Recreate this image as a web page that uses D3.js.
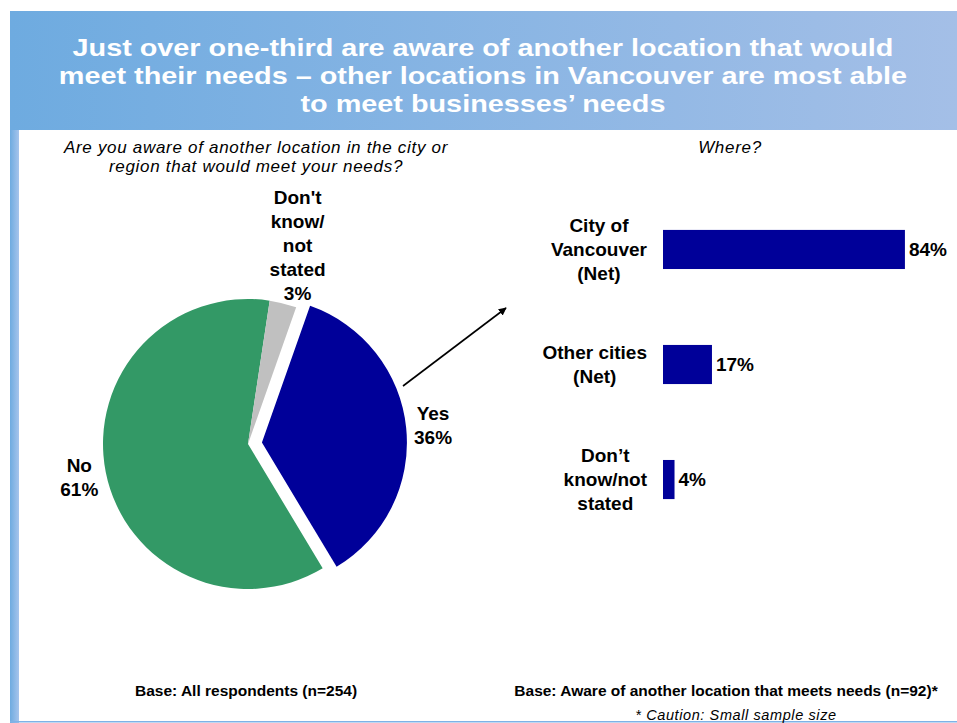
<!DOCTYPE html>
<html>
<head>
<meta charset="utf-8">
<script src="https://cdn.jsdelivr.net/npm/d3@7"></script>
<style>
  body { margin: 0; background: #fff; }
  svg { display: block; }
  text { font-family: "Liberation Sans", Arial, Helvetica, sans-serif; }
</style>
</head>
<body>
<div id="chart"></div>
<script>
// ---- Data ----
const titleLines = [
  "Just over one-third are aware of another location that would",
  "meet their needs \u2013 other locations in Vancouver are most able",
  "to meet businesses\u2019 needs"
];
const pieQuestion = [
  "Are you aware of another location in the city or",
  "region that would meet your needs?"
];
const pieCategories = ["Yes", "No", "Don't know/not stated"];
const pieValues = [36, 61, 3];
const pieLabelLines = [["Yes", "36%"], ["No", "61%"], ["Don't", "know/", "not", "stated", "3%"]];

const barQuestion = "Where?";
const barCategories = ["City of Vancouver (Net)", "Other cities (Net)", "Don\u2019t know/not stated"];
const barLabelLines = [["City of", "Vancouver", "(Net)"], ["Other cities", "(Net)"], ["Don\u2019t", "know/not", "stated"]];
const barValues = [84, 17, 4];

const baseLeft = "Base:  All respondents (n=254)";
const baseRight = "Base:  Aware of another location that meets needs (n=92)*";
const cautionNote = "* Caution: Small sample size";

// ---- Layout ----
const W = 957, H = 723;
const pieColors = ["#000099", "#339966", "#C0C0C0"];
const barColor = "#000099";
const labelFont = 19, lineH = 24;

const svg = d3.select("#chart").append("svg").attr("width", W).attr("height", H);
const defs = svg.append("defs");

const bandGrad = defs.append("linearGradient").attr("id", "band").attr("x1", 0).attr("x2", 1);
bandGrad.append("stop").attr("offset", 0).attr("stop-color", "#6EABE0");
bandGrad.append("stop").attr("offset", 1).attr("stop-color", "#A4BFE7");

const sideGrad = defs.append("linearGradient").attr("id", "side").attr("x1", 0).attr("x2", 1);
sideGrad.append("stop").attr("offset", 0).attr("stop-color", "#6EABE0");
sideGrad.append("stop").attr("offset", 1).attr("stop-color", "#A6C4EC");

defs.append("marker").attr("id", "arrowhead")
  .attr("viewBox", "0 0 10 10").attr("refX", 9).attr("refY", 5)
  .attr("markerWidth", 8).attr("markerHeight", 8).attr("orient", "auto")
  .attr("markerUnits", "userSpaceOnUse")
  .append("path").attr("d", "M0,0 L10,5 L0,10 z").attr("fill", "#000");

// Frame: title band, left stripe, bottom rule
svg.append("rect").attr("x", 10).attr("y", 11).attr("width", W - 10).attr("height", 119).attr("fill", "url(#band)");
svg.append("rect").attr("x", 10).attr("y", 130).attr("width", 9).attr("height", H - 130).attr("fill", "url(#side)");
svg.append("rect").attr("x", 10).attr("y", 721).attr("width", W - 10).attr("height", 1.5).attr("fill", "#7EB2E6");

// Title: bold white, slightly widened glyphs
const titleTexts = svg.append("g").selectAll("text").data(titleLines).join("text")
  .attr("x", 483).attr("y", (d, i) => 56 + i * 28)
  .attr("text-anchor", "middle").attr("fill", "#fff")
  .attr("font-size", 24).attr("font-weight", "bold")
  .text(d => d);
titleTexts.each(function () {
  const len = this.getComputedTextLength();
  d3.select(this).attr("textLength", len * 1.2).attr("lengthAdjust", "spacingAndGlyphs");
});

// Question headings
svg.append("g").selectAll("text").data(pieQuestion).join("text")
  .attr("x", 256).attr("y", (d, i) => 153 + i * 19)
  .attr("text-anchor", "middle").attr("font-size", 17).attr("font-style", "italic")
  .attr("letter-spacing", 0.7)
  .attr("fill", "#000").text(d => d);
svg.append("text").attr("x", 730).attr("y", 153)
  .attr("text-anchor", "middle").attr("font-size", 17).attr("font-style", "italic")
  .attr("letter-spacing", 0.7)
  .text(barQuestion);

// ---- Pie ----
const cx = 248, cy = 444, R = 145;
const startA = 19.4 * Math.PI / 180;
const pie = d3.pie().sort(null).value(d => d).startAngle(startA).endAngle(startA + 2 * Math.PI);
const arcs = pie(pieValues);
const arc = d3.arc().innerRadius(0).outerRadius(R);
const explode = [14, 0, 0];
const labelRadius = [186, 172, 205];
const mid = d => (d.startAngle + d.endAngle) / 2;

const pieG = svg.append("g").attr("transform", `translate(${cx},${cy})`);
pieG.selectAll("path").data(arcs).join("path")
  .attr("d", arc)
  .attr("fill", (d, i) => pieColors[i])
  .attr("transform", (d, i) => `translate(${Math.sin(mid(d)) * explode[i]},${-Math.cos(mid(d)) * explode[i]})`);

arcs.forEach((d, i) => {
  const a = mid(d), r = labelRadius[i];
  const lx = Math.sin(a) * r, ly = -Math.cos(a) * r;
  const lines = pieLabelLines[i];
  pieG.append("g").selectAll("text").data(lines).join("text")
    .attr("x", lx)
    .attr("y", (t, k) => ly + (k - (lines.length - 1) / 2) * lineH + 6.5)
    .attr("text-anchor", "middle").attr("font-size", labelFont).attr("font-weight", "bold")
    .attr("fill", "#000").text(t => t);
});

// Arrow from the Yes slice towards the breakdown
svg.append("line")
  .attr("x1", 403).attr("y1", 386).attr("x2", 506).attr("y2", 308)
  .attr("stroke", "#000").attr("stroke-width", 1.6)
  .attr("marker-end", "url(#arrowhead)");

// ---- Bars ----
const x = d3.scaleLinear().domain([0, 100]).range([663, 951]);
const y = d3.scaleBand().domain(barCategories).range([154, 575]).paddingInner(0.66).paddingOuter(0.66);

const barG = svg.append("g");
barG.selectAll("rect").data(barCategories).join("rect")
  .attr("x", x(0)).attr("y", d => y(d))
  .attr("width", (d, i) => x(barValues[i]) - x(0))
  .attr("height", y.bandwidth())
  .attr("fill", barColor);

barG.selectAll("text.val").data(barCategories).join("text")
  .attr("class", "val")
  .attr("x", (d, i) => x(barValues[i]) + 4)
  .attr("y", d => y(d) + y.bandwidth() / 2 + 6.5)
  .attr("font-size", labelFont).attr("font-weight", "bold")
  .text((d, i) => barValues[i] + "%");

barCategories.forEach((cat, i) => {
  const lines = barLabelLines[i];
  const c = y(cat) + y.bandwidth() / 2;
  const g = barG.append("g");
  const texts = g.selectAll("text").data(lines).join("text")
    .attr("y", (t, k) => c + (k - (lines.length - 1) / 2) * lineH + 6.5)
    .attr("text-anchor", "middle").attr("font-size", labelFont).attr("font-weight", "bold")
    .text(t => t);
  let maxW = 0;
  texts.each(function () { maxW = Math.max(maxW, this.getComputedTextLength()); });
  texts.attr("x", 647 - maxW / 2);
});

// ---- Footnotes ----
svg.append("text").attr("x", 246).attr("y", 696)
  .attr("text-anchor", "middle").attr("font-size", 15.5).attr("font-weight", "bold")
  .text(baseLeft);
svg.append("text").attr("x", 726).attr("y", 696)
  .attr("text-anchor", "middle").attr("font-size", 15.5).attr("font-weight", "bold")
  .text(baseRight);
svg.append("text").attr("x", 736).attr("y", 720)
  .attr("text-anchor", "middle").attr("font-size", 14.5).attr("font-style", "italic")
  .attr("letter-spacing", 0.6)
  .text(cautionNote);
</script>
</body>
</html>
